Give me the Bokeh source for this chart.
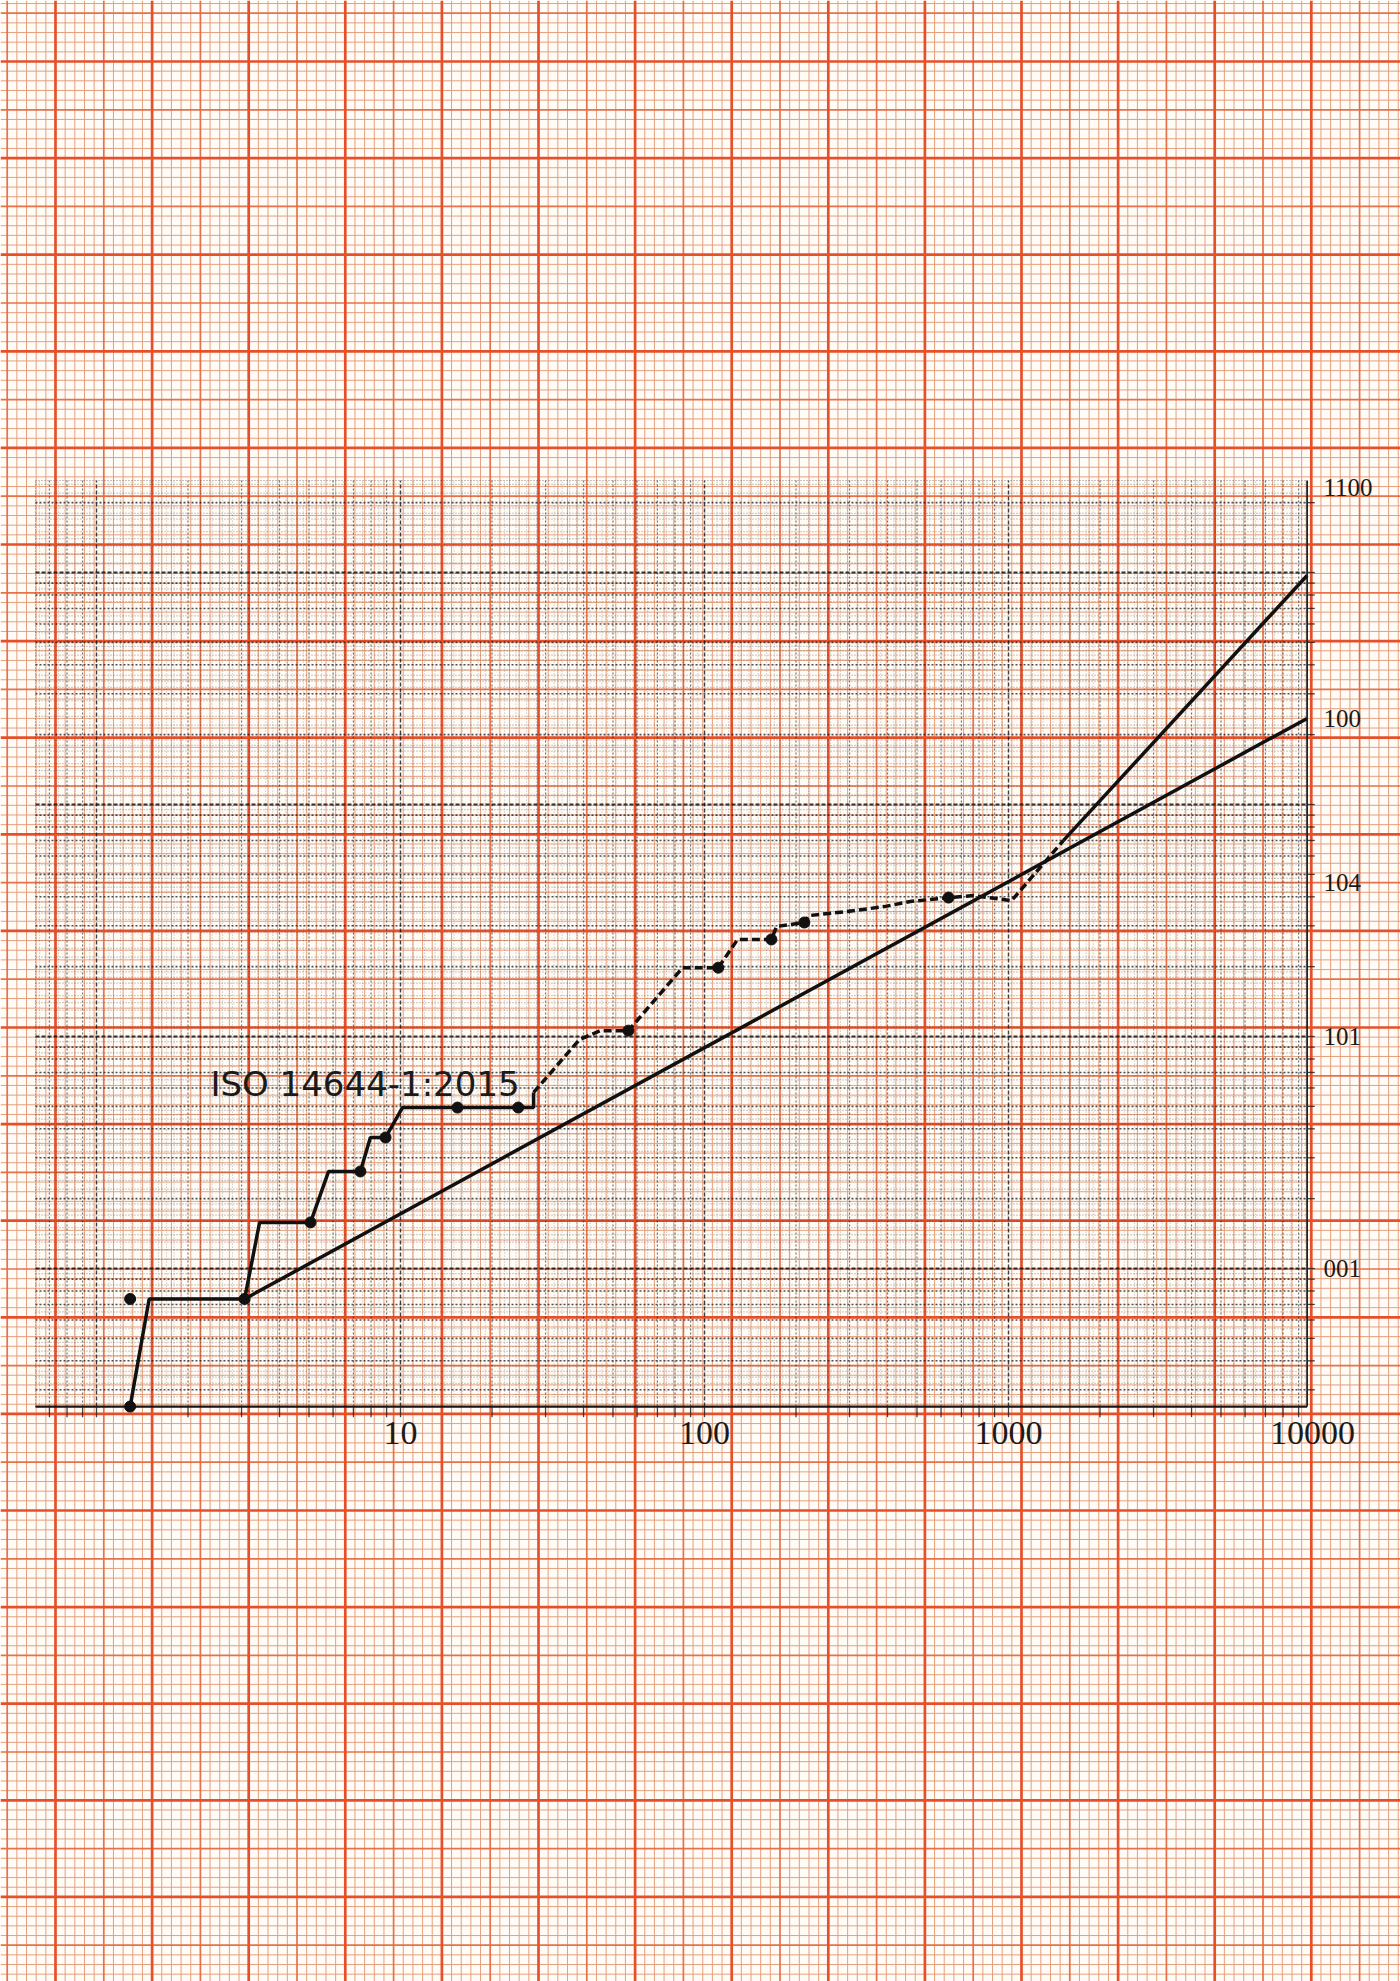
import numpy as np
from bokeh.plotting import figure
from bokeh.models import Range1d, LogScale
from bokeh.core.properties import value
from bokeh.embed import file_html
from bokeh.resources import INLINE

# ---------------- data ----------------
iso_solid_x = [1.29, 1.49, 3.07, 3.44, 5.06, 5.80, 7.38, 7.96, 8.93, 10.15, 15.4, 24.4, 27.4, 27.4]
iso_solid_y = [0.254, 0.739, 0.739, 1.58, 1.58, 2.62, 2.62, 3.67, 3.67, 4.94, 4.94, 4.94, 4.94, 5.74]

iso_dash_x = [27.4, 38.8, 45.5, 56.2, 84.7, 111, 128.5, 166, 172.6, 213, 221, 295, 391, 476, 635, 767, 1023, 1517]
iso_dash_y = [5.74, 9.7, 10.6, 10.6, 19.8, 19.8, 26.2, 26.2, 29.8, 31.0, 33.2, 34.6, 36.3, 38.2, 39.7, 40.5, 38.5, 70]

iso_tail_x = [1517, 9600]
iso_tail_y = [70, 971]

trend_x = [3.07, 9600]
trend_y = [0.739, 235]

marker_x = [1.29, 1.29, 3.07, 5.06, 7.38, 8.93, 15.4, 24.4, 56.2, 111, 166, 213, 635]
marker_y = [0.254, 0.739, 0.739, 1.58, 2.62, 3.67, 4.94, 4.94, 10.6, 19.8, 26.2, 31.0, 39.7]

x_tick_values = [10, 100, 1000, 10000]
x_tick_labels = ["10", "100", "1000", "10000"]
y_tick_values = [2320, 235, 46, 10, 1]
y_tick_labels = ["1100", "100", "104", "101", "001"]

label_text = "ISO 14644-1:2015"

# ---------------- layout calibration (page pixels) ----------------
W, H = 1400, 1981
PX0, PX1 = 0, W
PY0, PY1 = 0, H
X10_PX, XDEC = 400.0, 304.0      # x = 10 at page px 400, 304 px per decade
Y1_PX, YDEC = 1268.0, 232.0      # y = 1 at page py 1268, 232 px per decade

X_MIN, X_MAX = 0.63, 9600.0
Y_MIN, Y_MAX = 0.254, 2490.0

lx0 = 10 ** (1 + (PX0 - X10_PX) / XDEC)
lx1 = 10 ** (1 + (PX1 - X10_PX) / XDEC)
ly0 = 10 ** ((Y1_PX - PY1) / YDEC)
ly1 = 10 ** ((Y1_PX - PY0) / YDEC)

BG = "#fffbf6"
p = figure(width=W, height=H, output_backend="svg", toolbar_location=None,
           x_range=Range1d(PX0, PX1), y_range=Range1d(PY1, PY0),
           min_border=0, min_border_left=0, min_border_right=0,
           min_border_top=0, min_border_bottom=0)
p.axis.visible = False
p.grid.visible = False
p.outline_line_color = None
p.background_fill_color = BG
p.border_fill_color = BG
p.extra_x_ranges = {"lg": Range1d(lx0, lx1)}
p.extra_y_ranges = {"lg": Range1d(ly0, ly1)}
p.extra_x_scales = {"lg": LogScale()}
p.extra_y_scales = {"lg": LogScale()}

# ---------------- orange millimetre paper ----------------
step = 9.66
groups = {"minor": ([], [], [], []), "mid": ([], [], [], []), "major": ([], [], [], [])}
def cls(k):
    return "major" if k % 10 == 0 else ("mid" if k % 5 == 0 else "minor")
for i in range(-5, 140):
    xv = 55 + step * i
    g = groups[cls(i)]
    g[0].append(xv); g[1].append(PY0); g[2].append(xv); g[3].append(PY1)
for j in range(-6, 200):
    yv = 61 + step * j
    g = groups[cls(j)]
    g[0].append(PX0); g[1].append(yv); g[2].append(PX1); g[3].append(yv)
styles = {"minor": ("#e39c78", 1.0, 0.95), "mid": ("#e56a40", 1.7, 0.95), "major": ("#e5502a", 2.7, 1.0)}
for name in ["minor", "mid", "major"]:
    x0, y0, x1, y1 = groups[name]
    c, w, a = styles[name]
    p.segment(x0=x0, y0=y0, x1=x1, y1=y1, line_color=c, line_width=w, line_alpha=a)

# ---------------- black log-log grid ----------------
fine_m = [1.1, 1.2, 1.3, 1.4, 1.5, 1.6, 1.7, 1.8, 1.9, 2.2, 2.4, 2.6, 2.8, 3.2, 3.4, 3.6, 3.8,
          4.2, 4.4, 4.6, 4.8, 5.5, 6.5, 7.5, 8.5, 9.5]
def vals(ms, lo, hi):
    out = []
    for d in range(-2, 5):
        for m in ms:
            v = m * 10 ** d
            if lo * 0.999 <= v <= hi * 1.001:
                out.append(v)
    return out

kw = dict(x_range_name="lg", y_range_name="lg")
xf = vals(fine_m, X_MIN, X_MAX)
xm = vals([2, 3, 4, 5, 6, 7, 8, 9], X_MIN, X_MAX)
xd = vals([1], X_MIN, X_MAX)
yf = vals(fine_m, Y_MIN, Y_MAX)
ym = vals([2, 3, 4, 5, 6, 7, 8, 9], Y_MIN, Y_MAX)
yd = vals([1], Y_MIN, Y_MAX)

for xs, c, w, a, dash in [(xf, "#2a2a2a", 1.0, 0.35, "1 2"),
                          (xm, "#1e1e1e", 1.2, 0.6, "2 2"),
                          (xd, "#111111", 1.4, 0.8, "4 2")]:
    p.segment(x0=xs, y0=[Y_MIN] * len(xs), x1=xs, y1=[Y_MAX] * len(xs),
              line_color=c, line_width=w, line_alpha=a, line_dash=dash, **kw)
for ys, c, w, a, dash in [(yf, "#2a2a2a", 1.2, 0.42, "1 2"),
                          (ym, "#1a1a1a", 1.6, 0.75, "2 2"),
                          (yd, "#111111", 1.8, 0.85, "4 2")]:
    p.segment(x0=[X_MIN] * len(ys), y0=ys, x1=[X_MAX] * len(ys), y1=ys,
              line_color=c, line_width=w, line_alpha=a, line_dash=dash, **kw)

# frame
p.segment(x0=[X_MIN], y0=[Y_MIN], x1=[X_MAX], y1=[Y_MIN], line_color="#151515", line_width=2.4, **kw)
p.segment(x0=[X_MAX], y0=[Y_MIN], x1=[X_MAX], y1=[Y_MAX], line_color="#222222", line_width=1.8, **kw)
p.segment(x0=[X_MIN], y0=[Y_MIN], x1=[X_MIN], y1=[Y_MAX], line_color="#333333", line_width=1.0,
          line_alpha=0.6, line_dash="1 2", **kw)
p.segment(x0=[X_MIN], y0=[Y_MAX], x1=[X_MAX], y1=[Y_MAX], line_color="#333333", line_width=1.0,
          line_alpha=0.6, line_dash="1 2", **kw)
# outer ticks
yt = ym + yd
p.segment(x0=[X_MAX] * len(yt), y0=yt, x1=[X_MAX * 1.06] * len(yt), y1=yt,
          line_color="#222222", line_width=1.3, line_alpha=0.85, **kw)
xt = xm + xd
p.segment(x0=xt, y0=[Y_MIN] * len(xt), x1=xt, y1=[Y_MIN * 0.9] * len(xt),
          line_color="#222222", line_width=1.3, line_alpha=0.85, **kw)

# ---------------- data ----------------
p.line(trend_x, trend_y, line_color="#111111", line_width=3.5, **kw)
p.line(iso_solid_x, iso_solid_y, line_color="#111111", line_width=3.5, **kw)
p.line(iso_dash_x, iso_dash_y, line_color="#111111", line_width=3.5, line_dash="8 4", **kw)
p.line(iso_tail_x, iso_tail_y, line_color="#111111", line_width=3.5, **kw)
p.scatter(marker_x, marker_y, size=11, fill_color="#111111", line_color="#111111", **kw)

# ---------------- texts ----------------
p.text(x=x_tick_values, y=[0.196] * len(x_tick_values), text=x_tick_labels,
       text_font=value("Liberation Serif"), text_font_size="34px", text_color="#1a1a1a",
       text_align="center", text_baseline="middle", **kw)
p.text(x=[10860] * len(y_tick_values), y=y_tick_values, text=y_tick_labels,
       text_font=value("Liberation Serif"), text_font_size="25px", text_color="#1a1a1a",
       text_align="left", text_baseline="middle", **kw)
p.text(x=[2.37], y=[6.27], text=[label_text],
       text_font=value("DejaVu Sans"), text_font_size="34px", text_color="#1a1a1a",
       text_align="left", text_baseline="alphabetic", **kw)

open("out.html", "w").write(file_html(p, INLINE))
